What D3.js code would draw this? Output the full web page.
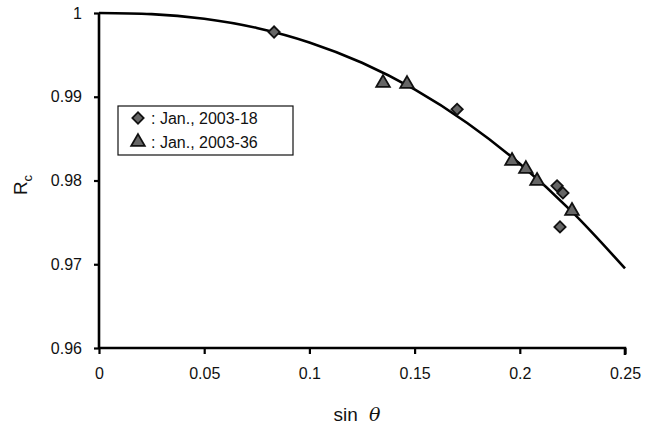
<!DOCTYPE html>
<html><head><meta charset="utf-8">
<script src="https://cdn.jsdelivr.net/npm/d3@7"></script>
<style>body{margin:0;background:#fff}svg{display:block}text{font-family:"Liberation Sans",Arial,sans-serif;fill:#111}</style>
</head><body><svg id="c" width="659" height="427"></svg>
<script>
// Read-off values
const curveX = [0, 0.025, 0.05, 0.075, 0.1, 0.125, 0.15, 0.175, 0.2, 0.225, 0.25];
const curveY = [1, 0.99987, 0.99932, 0.99822, 0.99649, 0.99406, 0.99087, 0.98686, 0.98199, 0.97622, 0.9695];
const s18X = [0.0832, 0.1702, 0.2177, 0.2205, 0.2191];
const s18Y = [0.99773, 0.98850, 0.97936, 0.97852, 0.97446];
const s36X = [0.1350, 0.1464, 0.1963, 0.2029, 0.2082, 0.2248];
const s36Y = [0.99165, 0.99153, 0.98234, 0.98138, 0.97995, 0.97637];
const xTicks = [0, 0.05, 0.1, 0.15, 0.2, 0.25];
const yTicks = [0.96, 0.97, 0.98, 0.99, 1];
const legendLabels = [": Jan., 2003-18", ": Jan., 2003-36"];

const svg = d3.select("#c");
const x = d3.scaleLinear().domain([0, 0.25]).range([99, 625]);
const y = d3.scaleLinear().domain([0.96, 1]).range([348, 13]);

// curve
const pts = curveX.map((v, i) => [v, curveY[i]]);
svg.append("path").datum(pts)
  .attr("d", d3.line().x(d => x(d[0])).y(d => y(d[1])).curve(d3.curveMonotoneX))
  .attr("fill", "none").attr("stroke", "#000").attr("stroke-width", 2.6);

// axes
const xa = svg.append("g").attr("transform", "translate(0,348)")
  .call(d3.axisBottom(x).tickValues(xTicks).tickSize(6).tickPadding(14).tickFormat(d => d === 0 ? "0" : String(+d.toFixed(2))));
const ya = svg.append("g").attr("transform", "translate(99,0)")
  .call(d3.axisLeft(y).tickValues(yTicks).tickSize(5).tickPadding(12).tickFormat(d => d === 1 ? "1" : String(+d.toFixed(2))));
[xa, ya].forEach(a => {
  a.select(".domain").attr("stroke", "#000").attr("stroke-width", 2.6);
  a.selectAll(".tick line").attr("stroke", "#000").attr("stroke-width", 2.2);
  a.selectAll("text").attr("font-size", 16).attr("fill", "#111").attr("font-family", "Liberation Sans, Arial, sans-serif");
});
xa.select(".domain").attr("d", "M99,0H625V7");
ya.select(".domain").attr("d", "M0,348V13");

// markers
const square = d3.symbol().type(d3.symbolSquare).size(64);
const tri = d3.symbol().type(d3.symbolTriangle).size(80);
svg.append("g").selectAll("path").data(s36X.map((v, i) => [v, s36Y[i]])).join("path")
  .attr("d", tri).attr("transform", d => `translate(${x(d[0])},${y(d[1])})`)
  .attr("fill", "#666").attr("stroke", "#111").attr("stroke-width", 1.8);
svg.append("g").selectAll("path").data(s18X.map((v, i) => [v, s18Y[i]])).join("path")
  .attr("d", square).attr("transform", d => `translate(${x(d[0])},${y(d[1])}) rotate(45)`)
  .attr("fill", "#666").attr("stroke", "#111").attr("stroke-width", 1.8);

// legend
const lg = svg.append("g");
lg.append("rect").attr("x", 118).attr("y", 106).attr("width", 175).attr("height", 49)
  .attr("fill", "#fff").attr("stroke", "#111").attr("stroke-width", 1.2);
legendLabels.forEach((t, i) => {
  const yy = 118 + i * 24;
  lg.append("path").attr("d", i === 0 ? square : tri)
    .attr("transform", `translate(138,${yy})` + (i === 0 ? " rotate(45)" : ""))
    .attr("fill", "#666").attr("stroke", "#111").attr("stroke-width", 1.8);
  lg.append("text").attr("x", 151).attr("y", yy + 6).attr("font-size", 16).text(t);
});

// axis titles
const xt = svg.append("text").attr("x", 357).attr("y", 421).attr("text-anchor", "middle").attr("font-size", 19);
xt.append("tspan").text("sin ");
xt.append("tspan").attr("font-style", "italic").attr("font-family", "DejaVu Serif, serif").attr("dx", 6).text("θ");
const yt = svg.append("text").attr("transform", "translate(27,185) rotate(-90)").attr("text-anchor", "middle").attr("font-size", 19);
yt.append("tspan").text("R");
yt.append("tspan").attr("font-size", 13).attr("dy", 5).text("c");
</script></body></html>
